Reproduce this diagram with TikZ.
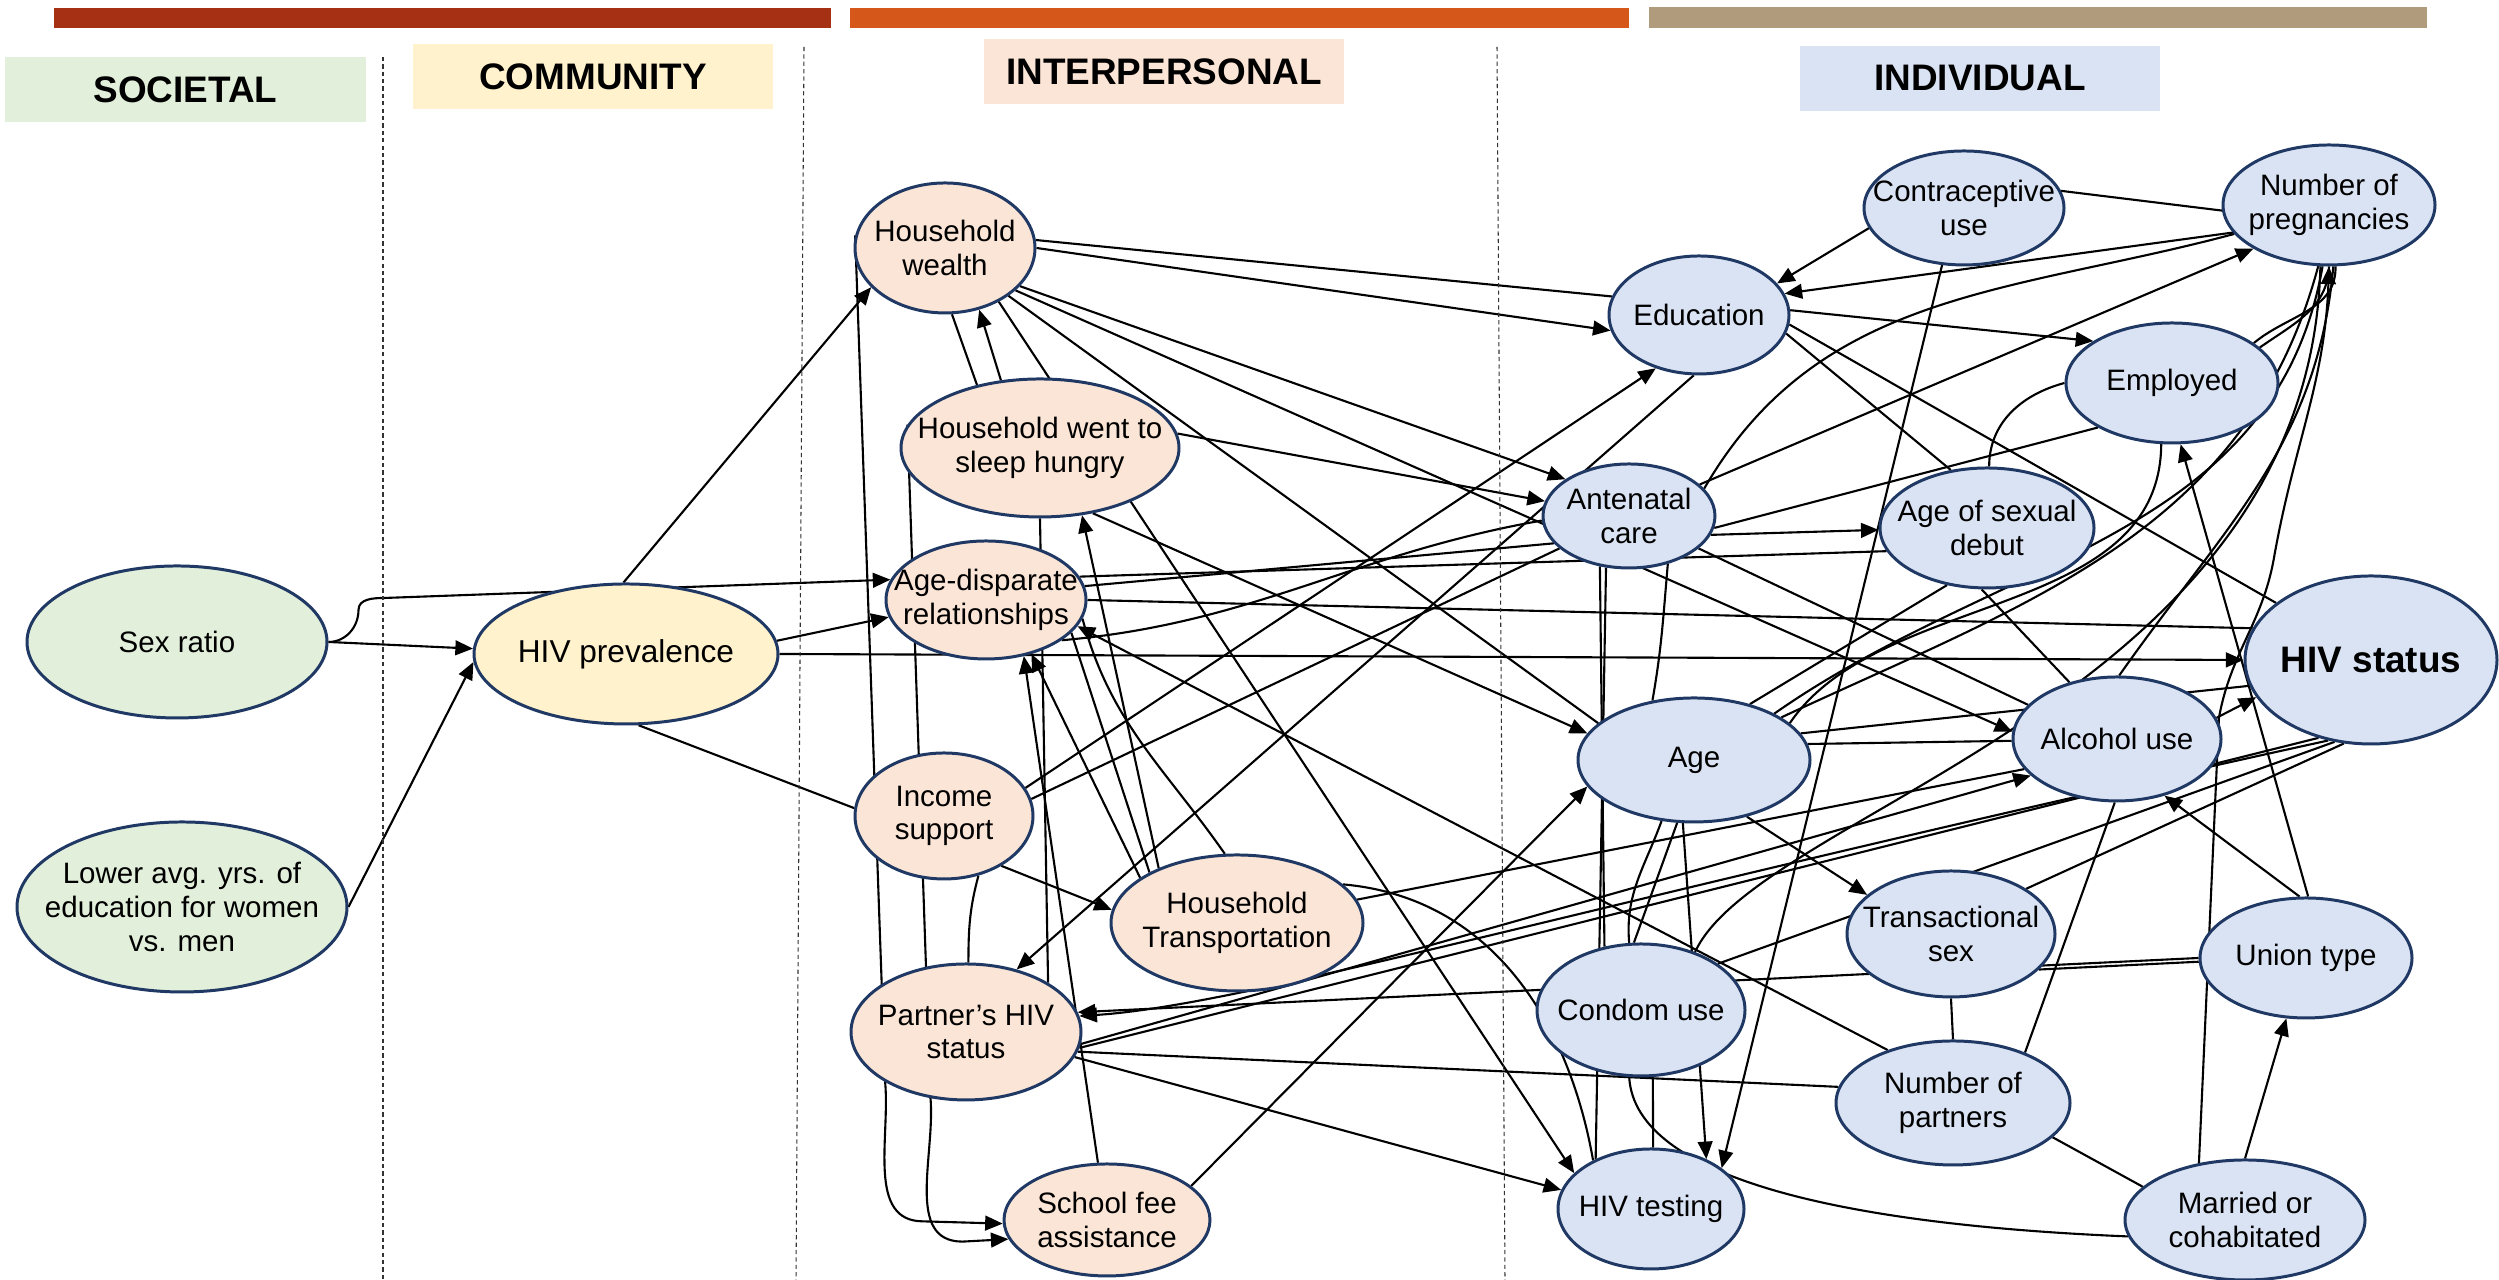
\documentclass[tikz,border=0pt]{standalone}
\usepackage{fontspec}
\setmainfont{Liberation Sans}
\usetikzlibrary{shapes.geometric,arrows.meta,backgrounds}

\definecolor{nodeedge}{HTML}{1F3864}
\definecolor{barred}{HTML}{A53014}
\definecolor{barorange}{HTML}{D5581A}
\definecolor{bartan}{HTML}{B09C7D}
\definecolor{socgreen}{HTML}{E2EFDA}
\definecolor{comyellow}{HTML}{FFF2CC}
\definecolor{interpeach}{HTML}{FBE5D6}
\definecolor{indivblue}{HTML}{DAE3F3}

\tikzset{
  factor/.style={ellipse, draw=nodeedge, line width=0.85pt, inner xsep=-5mm, inner ysep=0pt,
    align=center, font=\fontsize{8.4}{9.6}\selectfont},
  socnode/.style={factor, fill=socgreen},
  comnode/.style={factor, fill=comyellow},
  internode/.style={factor, fill=interpeach},
  indivnode/.style={factor, fill=indivblue},
  lvl/.style={minimum width=3.6cm, minimum height=0.65cm, inner sep=0pt,
    font=\fontsize{10.5}{12}\selectfont\bfseries},
  link/.style={line width=0.6pt},
  arr/.style={link, -{Triangle[length=5pt,width=4.2pt]}},
  sep/.style={dash pattern=on 1.2pt off 0.9pt, line width=0.3pt, black!80}
}

\begin{document}
\begin{tikzpicture}
\useasboundingbox (0,0) rectangle (24.99,12.80);

% colour bars on top
\fill[barred] (0.54,12.52) rectangle (8.31,12.72);
\fill[barorange] (8.50,12.52) rectangle (16.29,12.72);
\fill[bartan] (16.49,12.52) rectangle (24.27,12.73);

% level headings
\node[lvl, fill=socgreen] (hdrsoc) at (1.855,11.905) {SOCIETAL};
\node[lvl, fill=comyellow] (hdrcom) at (5.93,12.03) {COMMUNITY};
\node[lvl, fill=interpeach] (hdrinter) at (11.64,12.08) {INTERPERSONAL};
\node[lvl, fill=indivblue] (hdrindiv) at (19.80,12.015) {INDIVIDUAL};

% separators
\draw[sep] (3.83,12.23) -- (3.83,0);
\draw[sep] (8.04,12.33) -- (7.96,0);
\draw[sep] (14.97,12.33) -- (15.05,0);

% societal / community
\node[socnode, minimum width=3.00cm, minimum height=1.52cm] (sexratio) at (1.77,6.38) {Sex ratio};
\node[socnode, minimum width=3.30cm, minimum height=1.70cm] (lowedu) at (1.82,3.73) {Lower avg. yrs. of\\education for women\\vs. men};
\node[comnode, minimum width=3.04cm, minimum height=1.40cm, font=\fontsize{9}{11}\selectfont] (hivprev) at (6.26,6.26) {HIV prevalence};

% interpersonal
\node[internode, minimum width=1.80cm, minimum height=1.30cm] (hhwealth) at (9.45,10.32) {Household\\wealth};
\node[internode, minimum width=2.78cm, minimum height=1.38cm] (hhhungry) at (10.40,8.32) {Household went to\\sleep hungry};
\node[internode, minimum width=2.00cm, minimum height=1.18cm] (agedisp) at (9.86,6.80) {Age-disparate\\relationships};
\node[internode, minimum width=1.78cm, minimum height=1.26cm] (income) at (9.44,4.64) {Income\\support};
\node[internode, minimum width=2.52cm, minimum height=1.36cm] (transport) at (12.37,3.57) {Household\\Transportation};
\node[internode, minimum width=2.30cm, minimum height=1.36cm] (partner) at (9.66,2.48) {Partner’s HIV\\status};
\node[internode, minimum width=2.06cm, minimum height=1.12cm] (schoolfee) at (11.07,0.60) {School fee\\assistance};

% individual
\node[indivnode, minimum width=2.00cm, minimum height=1.14cm] (contra) at (19.64,10.72) {Contraceptive\\use};
\node[indivnode, minimum width=2.12cm, minimum height=1.20cm] (pregn) at (23.29,10.75) {Number of\\pregnancies};
\node[indivnode, minimum width=1.80cm, minimum height=1.18cm] (educ) at (16.99,9.65) {Education};
\node[indivnode, minimum width=2.12cm, minimum height=1.20cm] (employed) at (21.72,8.97) {Employed};
\node[indivnode, minimum width=1.72cm, minimum height=1.04cm] (antenatal) at (16.29,7.64) {Antenatal\\care};
\node[indivnode, minimum width=2.14cm, minimum height=1.20cm] (sexdebut) at (19.87,7.52) {Age of sexual\\debut};
\node[indivnode, minimum width=2.52cm, minimum height=1.68cm, font=\fontsize{10.5}{12}\selectfont\bfseries] (hivstatus) at (23.71,6.20) {HIV status};
\node[indivnode, minimum width=2.32cm, minimum height=1.24cm] (age) at (16.94,5.20) {Age};
\node[indivnode, minimum width=2.08cm, minimum height=1.24cm] (alcohol) at (21.17,5.41) {Alcohol use};
\node[indivnode, minimum width=2.08cm, minimum height=1.26cm] (transsex) at (19.51,3.46) {Transactional\\sex};
\node[indivnode, minimum width=2.12cm, minimum height=1.20cm] (union) at (23.06,3.22) {Union type};
\node[indivnode, minimum width=2.08cm, minimum height=1.32cm] (condom) at (16.41,2.70) {Condom use};
\node[indivnode, minimum width=2.34cm, minimum height=1.24cm] (partners) at (19.53,1.77) {Number of\\partners};
\node[indivnode, minimum width=1.86cm, minimum height=1.20cm] (hivtest) at (16.51,0.71) {HIV testing};
\node[indivnode, minimum width=2.40cm, minimum height=1.20cm] (married) at (22.45,0.60) {Married or\\cohabitated};

\begin{scope}[on background layer]
% from societal and community
\draw[arr] (sexratio.east) -- (hivprev.178);
\draw[arr] (sexratio.east) to[out=0,in=-90] ++(0.3,0.32) to[out=90,in=180] ++(0.26,0.12) -- (agedisp.168);
\draw[arr] (lowedu.east) -- (hivprev.183);
\draw[arr] (hivprev.92) -- (hhwealth.208);
\draw[arr] (hivprev.5) -- (agedisp.190);
\draw[arr] (hivprev.east) -- (hivstatus.west);
\draw[link] (hivprev.-80) -- (income.175);

% interpersonal
\draw[link] (hhwealth.5) -- (educ.168);
\draw[arr] (hhwealth.0) -- (educ.190);
\draw[arr] (hhwealth.-27) -- (antenatal.150);
\draw[arr] (hhwealth.-31) -- (alcohol.176);
\draw[link] (hhwealth.-37) -- (age.159);
\draw[arr] (hhwealth.-45) -- (hivtest.155);
\draw[arr] (hhhungry.120) -- (hhwealth.-61);
\draw[link] (hhwealth.-84) -- (hhhungry.135);
\draw[arr] (hhwealth.172) -- ++(0.30,-8.47) to[out=-85,in=180] ++(0.38,-1.39) -- (schoolfee.182);
\draw[arr] (hhhungry.170) -- ++(0.23,-6.73) to[out=-85,in=180] ++(0.32,-1.44) -- (schoolfee.191);
\draw[arr] (hhhungry.6) -- (antenatal.170);
\draw[arr] (hhhungry.-51) -- (age.166);
\draw[link] (hhhungry.-90) -- (partner.31);
\draw[link] (agedisp.14) -- (sexdebut.193);
\draw[link] (agedisp.0) -- (hivstatus.165);
\draw[link] (agedisp.8) -- (antenatal.200);
\draw[link] (agedisp.-28) to[out=5,in=190] (antenatal.183);
\draw[arr] (partners.141) -- (agedisp.-16);
\draw[arr] (transport.155) -- (agedisp.-50);
\draw[link] (agedisp.-21) -- (transport.150);
\draw[arr] (transport.145) -- (hhhungry.-58);
\draw[link] (agedisp.-11) to[out=-75,in=125] (transport.100);
\draw[arr] (income.19) -- (educ.231);
\draw[link] (income.11) -- (antenatal.205);
\draw[arr] (income.-41) -- (transport.174);
\draw[link] (income.-60) to[out=-105,in=90] (partner.88);
\draw[arr] (educ.265) -- (partner.51);
\draw[arr] (union.180) -- (partner.10);
\draw[arr] (hivstatus.242) .. controls (16,3.8) and (12.5,2.75) .. (partner.8);
\draw[arr] (partner.-6) -- (alcohol.203);
\draw[link] (partner.-8) -- (hivstatus.236);
\draw[link] (partner.-10) -- (partners.172);
\draw[arr] (partner.-13) -- (hivtest.168);
\draw[arr] (schoolfee.99) -- (agedisp.-56);
\draw[arr] (schoolfee.22) -- (age.194);
\draw[link] (transport.11) -- (alcohol.198);
\draw[link] (transport.20) to[out=-5,in=100] (hivtest.140);

% individual
\draw[arr] (contra.249) -- (hivtest.30);
\draw[arr] (contra.192) -- (educ.22);
\draw[link] (contra.10) -- (pregn.183);
\draw[arr] (pregn.196) -- (educ.14);
\draw[link] (antenatal.20) to[out=60,in=195] (pregn.197);
\draw[arr] (antenatal.24) -- (pregn.210);
\draw[link] (antenatal.-8) -- (employed.211);
\draw[arr] (antenatal.-13) -- (sexdebut.181);
\draw[link] (antenatal.-25) -- (alcohol.159);
\draw[link] (antenatal.240) -- (condom.120);
\draw[link] (antenatal.246) -- (hivtest.138);
\draw[link] (antenatal.-51) to[out=-95,in=80] (age.125);
\draw[arr] (educ.3) -- (employed.152);
\draw[link] (educ.-12) -- (sexdebut.122);
\draw[link] (educ.-6) -- (hivstatus.149);
\draw[link] (employed.180) to[out=195,in=90] (sexdebut.88);
\draw[link] (employed.26) to[out=40,in=-88] (pregn.-84);
\draw[link] (employed.22) to[out=35,in=-92] (pregn.-90);
\draw[arr] (union.88) -- (employed.-82);
\draw[arr] (union.96) -- (alcohol.-50);
\draw[link] (age.21) .. controls (18.8,6.9) and (21.6,6.6) .. (employed.-100);
\draw[arr] (married.129) -- ++(0.2,4.45) to[out=80,in=-100] ++(0.55,1.6) to[out=80,in=-92] (pregn.-90);
\draw[arr] (married.90) -- (union.252);
\draw[link] (partners.-19) -- (married.162);
\draw[link] (condom.-100) .. controls (16.35,1.0) and (18.5,0.55) .. (married.188);
\draw[link] (condom.-80) -- (hivtest.88);
\draw[arr] (age.-100) -- (hivtest.42);
\draw[link] (age.242) to[out=250,in=95] (condom.100);
\draw[link] (age.255) -- (condom.96);
\draw[arr] (age.-47) -- (transsex.155);
\draw[link] (age.8) -- (alcohol.181);
\draw[link] (age.14) -- (hivstatus.192);
\draw[link] (age.30) to[out=35,in=-100] (pregn.-96);
\draw[link] (age.26) to[out=25,in=-105] (pregn.-100);
\draw[link] (sexdebut.235) -- (age.45);
\draw[link] (sexdebut.-95) -- (alcohol.130);
\draw[link] (condom.47) .. controls (17.6,4.7) and (23.1,5.8) .. (pregn.-98);
\draw[link] (alcohol.88) to[out=55,in=-95] (pregn.-86);
\draw[arr] (alcohol.12) -- (hivstatus.198);
\draw[link] (alcohol.-92) -- (partners.35);
\draw[link] (transsex.31) -- (hivstatus.252);
\draw[link] (condom.31) -- (hivstatus.246);
\draw[link] (transsex.-22) -- (union.182);
\draw[link] (transsex.-90) -- (partners.90);
\end{scope}
\end{tikzpicture}
\end{document}
